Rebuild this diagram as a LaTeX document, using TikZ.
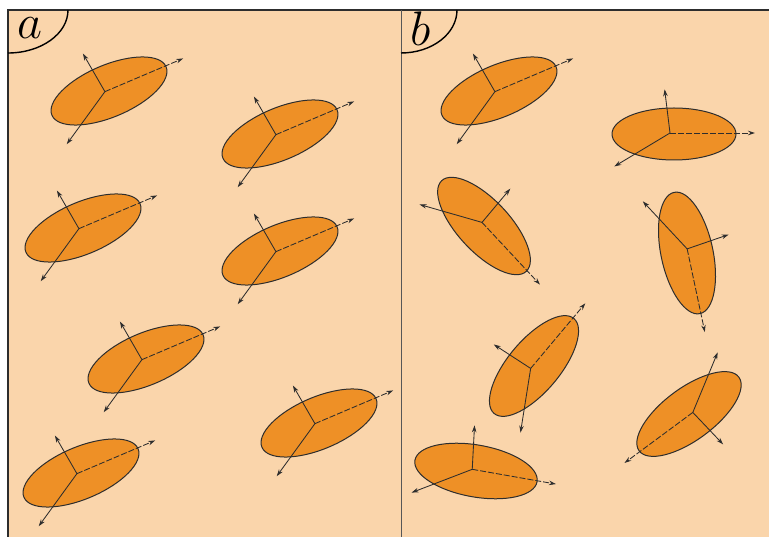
\documentclass[tikz,border=0pt]{standalone}
\usepackage{xcolor}
\usepackage{tikz}
\usetikzlibrary{arrows.meta, positioning}
\definecolor{peach}{RGB}{250,213,171}
\definecolor{grainorange}{RGB}{238,144,38}
\definecolor{inkgray}{RGB}{45,45,45}
\tikzset{
  frame/.style={draw=inkgray, line width=1.6pt},
  divider/.style={draw=inkgray!80, line width=1pt},
  tag/.style={draw=black, line width=1.4pt},
  grain/.style={draw=inkgray, line width=1pt, fill=grainorange},
  axisarrow/.style={draw=inkgray, line width=0.85pt, -{Stealth[length=7pt,width=4.5pt]}},
  longaxis/.style={axisarrow, dash pattern=on 6pt off 2pt},
  panellabel/.style={font=\Huge, inner sep=0pt}
}
% one grain: centre x, centre y, angle of the long axis
\newcommand{\particle}[3]{%
  \begin{scope}[shift={(#1,#2)}, rotate=#3]
    \draw[grain] (0,0) ellipse [x radius=62, y radius=26];
    \coordinate (o) at (-4,1);
    \draw[longaxis] (o) -- ++(85,0);
    \draw[axisarrow] (o) -- ++(97:44);
    \draw[axisarrow] (o) -- ++(211:65);
  \end{scope}}

\begin{document}
\begin{tikzpicture}[x=1pt, y=1pt]
    % Panels
    \useasboundingbox (0,0) rectangle (769,-537);
    \fill[peach] (8,-10) rectangle (769,-537);
    \draw[frame] (769,-10) -- (8,-10) -- (8,-537);
    \draw[divider] (401,-10) -- (401,-537);
    \draw[tag] (68,-10) arc [start angle=0, end angle=-90, x radius=60, y radius=43];
    \draw[tag] (457,-10) arc [start angle=0, end angle=-90, x radius=56, y radius=43];
    \node[panellabel] (labelA) at (30,-28) {\scalebox{1.95}{$a$}};
    \node[panellabel] (labelB) at (421,-29) {\scalebox{1.95}{$b$}};

    % Particles, panel a
    \particle{109}{-91}{23}
    \particle{280}{-134}{23}
    \particle{83}{-228}{23}
    \particle{280}{-251}{23}
    \particle{146}{-359}{23}
    \particle{319}{-423}{23}
    \particle{81}{-473}{23}

    % Particles, panel b
    \particle{499}{-91}{23}
    \particle{674}{-134}{0}
    \particle{484}{-226}{-47}
    \particle{687}{-253}{-78}
    \particle{534}{-366}{50}
    \particle{689}{-414}{216.5}
    \particle{476}{-471}{-10}
\end{tikzpicture}
\end{document}
